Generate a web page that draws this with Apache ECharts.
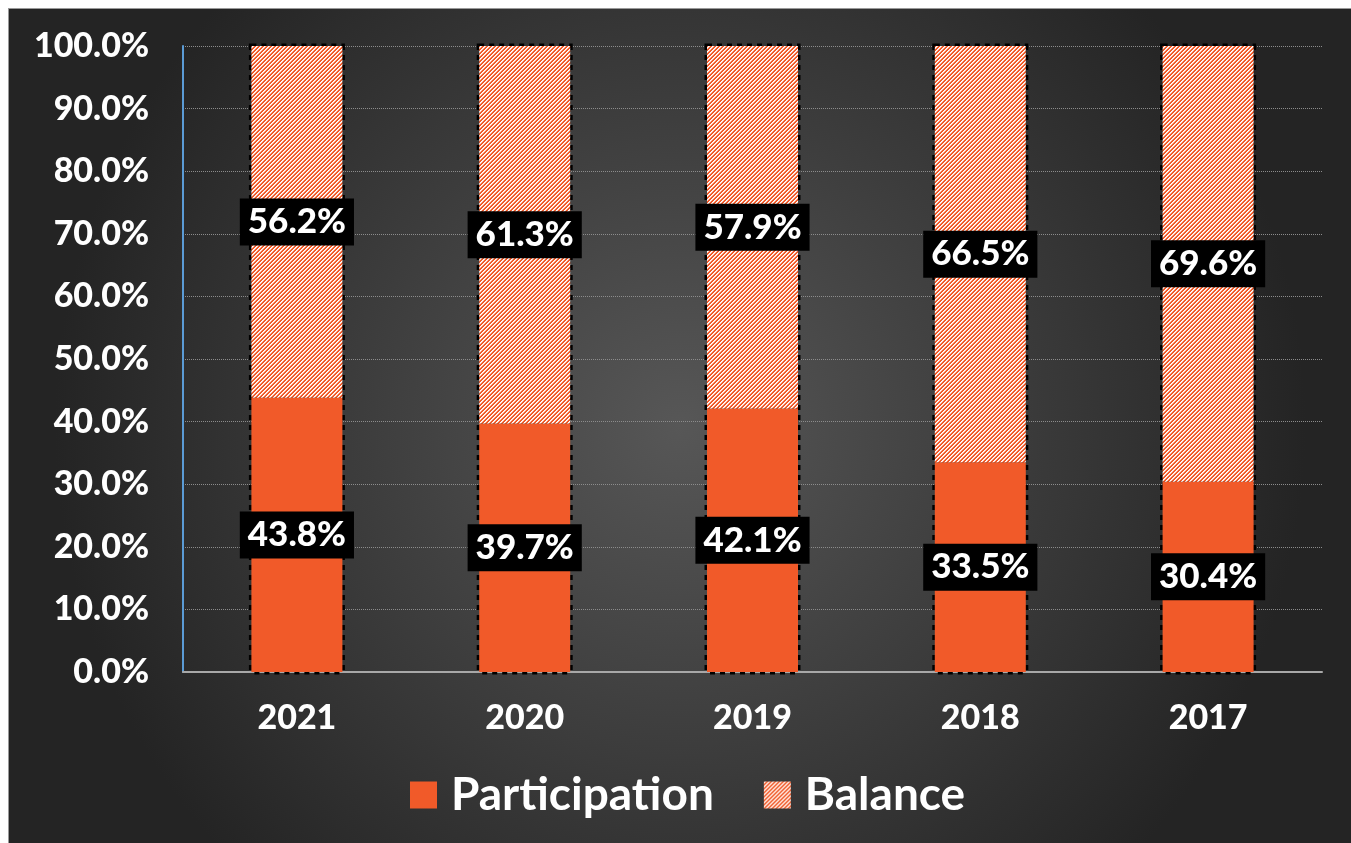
<!DOCTYPE html>
<html>
<head>
<meta charset="utf-8">
<script src="https://cdn.jsdelivr.net/npm/echarts@6/dist/echarts.min.js"></script>
<style>
  html, body { margin: 0; padding: 0; background: #fff; }
  #main { position: absolute; left: 8px; top: 8px; width: 1343px; height: 835px; border-left: 1px solid #999; border-top: 1px solid #999; box-sizing: border-box; }
</style>
</head>
<body>
<div id="main"></div>
<script>
// data
const years = ['2021', '2020', '2019', '2018', '2017'];
const participation = [43.8, 39.7, 42.1, 33.5, 30.4];
const balance = [56.2, 61.3, 57.9, 66.5, 69.6];
const seriesNames = ['Participation', 'Balance'];

const orange = '#F15A29';

// diagonal white hatch on orange for the "Balance" part
function makeHatch() {
  const c = document.createElement('canvas');
  c.width = 4; c.height = 4;
  const ctx = c.getContext('2d');
  ctx.fillStyle = orange;
  ctx.fillRect(0, 0, 4, 4);
  for (let x = 0; x < 4; x++) {
    for (let y = 0; y < 4; y++) {
      const k = (x + y) % 4;
      if (k === 0) { ctx.fillStyle = '#ffffff'; ctx.fillRect(x, y, 1, 1); }
      if (k === 1) { ctx.fillStyle = '#fdd6c8'; ctx.fillRect(x, y, 1, 1); }
    }
  }
  return c;
}

const font = 'Lato';
const labelStyle = {
  show: true,
  position: 'inside',
  formatter: p => p.value.toFixed(1) + '%',
  color: '#fff',
  fontFamily: font,
  fontWeight: 900,
  fontSize: 35,
  backgroundColor: '#000',
  padding: [7, 8, 5, 8]
};

const myChart = echarts.init(document.getElementById('main'));

myChart.setOption({
  animation: false,
  backgroundColor: {
    type: 'radial', x: 0.5, y: 0.5, r: 0.75,
    colorStops: [
      { offset: 0, color: '#575757' },
      { offset: 1, color: '#242424' }
    ]
  },
  grid: { left: 174, right: 29, top: 37, bottom: 171 },
  legend: {
    data: seriesNames,
    bottom: 20,
    left: 396,
    icon: 'rect',
    itemWidth: 27,
    itemHeight: 27,
    itemGap: 50,
    textStyle: { color: '#fff', fontFamily: font, fontWeight: 'bold', fontSize: 46, padding: [0, 0, 0, 9] }
  },
  xAxis: {
    type: 'category',
    data: years,
    axisLine: { lineStyle: { color: '#a8a8a8', width: 2 } },
    axisTick: { show: false },
    axisLabel: { color: '#fff', fontFamily: font, fontWeight: 900, fontSize: 34, margin: 29 }
  },
  yAxis: {
    type: 'value',
    min: 0, max: 100, interval: 10,
    axisLine: { show: true, lineStyle: { color: '#5B9BD5', width: 2 } },
    axisTick: { show: false },
    splitLine: { lineStyle: { color: '#8c8c8c', type: 'dotted', width: 1 } },
    axisLabel: {
      color: '#fff', fontFamily: font, fontWeight: 900, fontSize: 34, margin: 34,
      formatter: v => v.toFixed(1) + '%'
    }
  },
  series: [
    {
      name: seriesNames[0],
      type: 'bar',
      stack: 'total',
      barWidth: 91,
      data: participation,
      itemStyle: { color: orange },
      showBackground: true,
      backgroundStyle: { color: 'rgba(0,0,0,0)', borderColor: '#000', borderWidth: 5, borderType: 'dotted' },
      label: labelStyle
    },
    {
      name: seriesNames[1],
      type: 'bar',
      stack: 'total',
      barWidth: 91,
      data: balance,
      itemStyle: { color: { image: makeHatch(), repeat: 'repeat' } },
      label: labelStyle
    }
  ]
});
</script>
</body>
</html>
